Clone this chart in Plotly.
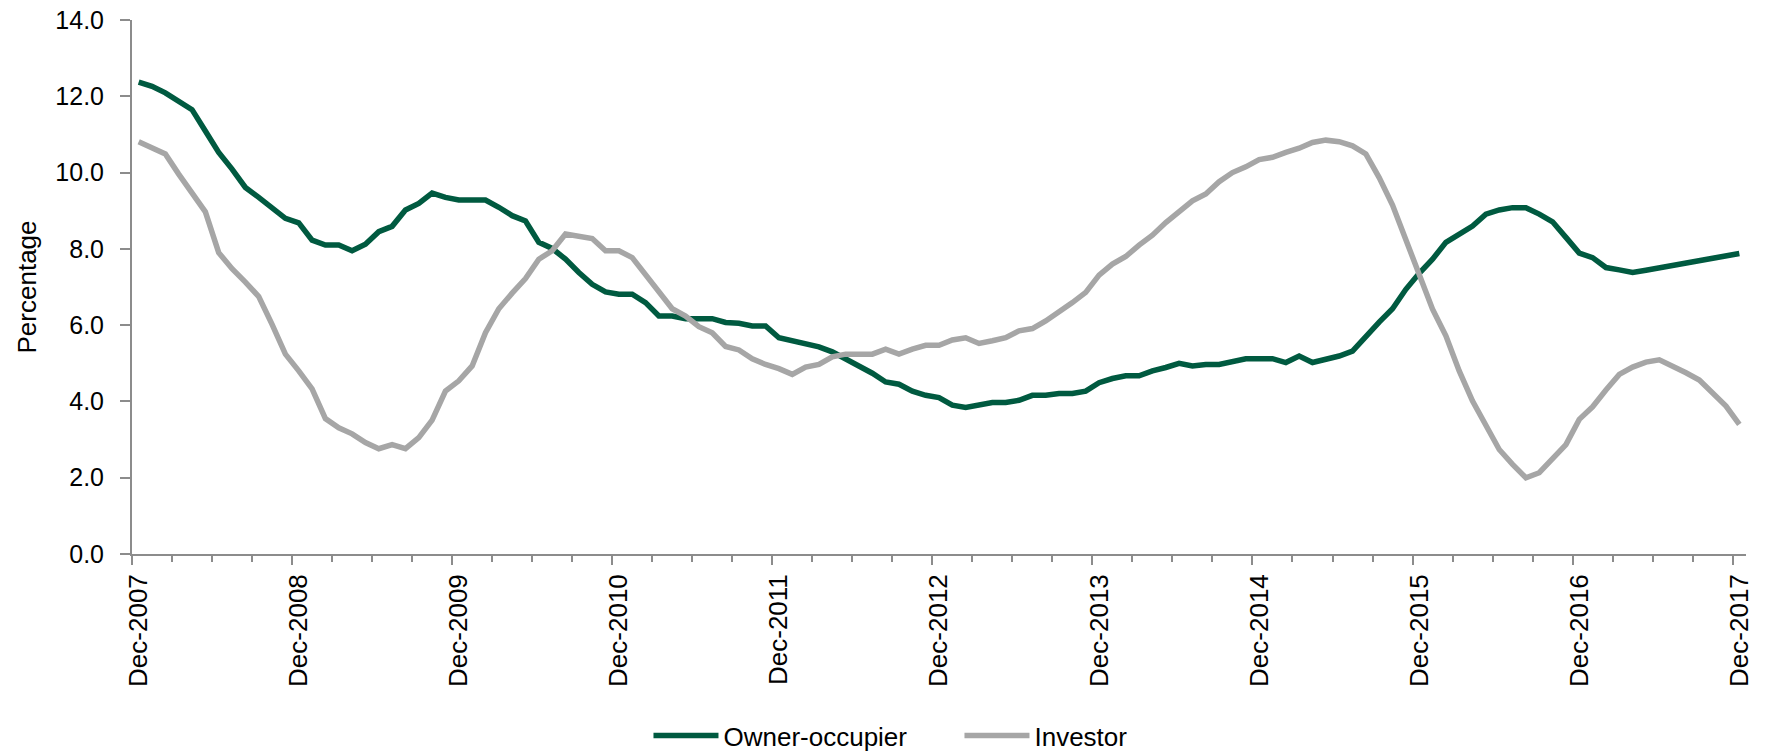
import plotly.graph_objects as go

# Monthly observations, Dec-2007 .. Dec-2017 (121 months)
tick_labels = ["Dec-2007", "Dec-2008", "Dec-2009", "Dec-2010", "Dec-2011", "Dec-2012",
               "Dec-2013", "Dec-2014", "Dec-2015", "Dec-2016", "Dec-2017"]

owner_occupier = [
    12.37, 12.26, 12.09, 11.86, 11.65, 11.09, 10.53, 10.09, 9.61, 9.35, 9.07, 8.80,
    8.68, 8.23, 8.10, 8.10, 7.95, 8.12, 8.45, 8.59, 9.02, 9.19, 9.46, 9.35,
    9.28, 9.28, 9.28, 9.09, 8.87, 8.73, 8.17, 8.01, 7.73, 7.38, 7.07, 6.87,
    6.81, 6.81, 6.59, 6.24, 6.24, 6.17, 6.17, 6.17, 6.07, 6.05, 5.98, 5.98,
    5.67, 5.59, 5.49, 5.43, 5.30, 5.12, 4.91, 4.74, 4.51, 4.45, 4.27, 4.16,
    4.10, 3.90, 3.84, 3.90, 3.97, 3.97, 4.03, 4.16, 4.16, 4.21, 4.21, 4.27,
    4.49, 4.60, 4.67, 4.67, 4.80, 4.89, 5.00, 4.93, 4.97, 4.97, 5.04, 5.12,
    5.12, 5.12, 5.02, 5.19, 5.02, 5.09, 5.19, 5.32, 5.72, 6.08, 6.43, 6.94,
    7.36, 7.73, 8.17, 8.37, 8.60, 8.91, 9.02, 9.08, 9.08, 8.91, 8.71, 8.30,
    7.89, 7.77, 7.51, 7.45, 7.38, 7.44, 7.50, 7.57, 7.62, 7.69, 7.75, 7.82,
    7.88,
]

investor = [
    10.81, 10.63, 10.49, 9.96, 9.46, 8.97, 7.90, 7.48, 7.13, 6.75, 6.02, 5.24,
    4.80, 4.33, 3.55, 3.31, 3.15, 2.92, 2.76, 2.87, 2.76, 3.05, 3.51, 4.27,
    4.54, 4.93, 5.80, 6.43, 6.84, 7.22, 7.73, 7.95, 8.39, 8.34, 8.27, 7.95,
    7.95, 7.77, 7.34, 6.90, 6.43, 6.24, 5.96, 5.80, 5.44, 5.35, 5.12, 4.97,
    4.86, 4.71, 4.90, 4.97, 5.17, 5.24, 5.24, 5.24, 5.37, 5.24, 5.37, 5.47,
    5.47, 5.61, 5.67, 5.52, 5.59, 5.67, 5.85, 5.91, 6.11, 6.33, 6.59, 6.86,
    7.31, 7.60, 7.80, 8.10, 8.36, 8.69, 8.97, 9.26, 9.44, 9.76, 10.00, 10.15,
    10.34, 10.40, 10.53, 10.64, 10.79, 10.85, 10.81, 10.70, 10.49, 9.87, 9.15, 8.26,
    7.29, 6.42, 5.72, 4.80, 4.01, 3.36, 2.74, 2.35, 2.00, 2.13, 2.48, 2.87,
    3.53, 3.86, 4.30, 4.71, 4.90, 5.03, 5.09, 4.93, 4.75, 4.56, 4.23, 3.88,
    3.40,
]

n = len(owner_occupier)
month_index = list(range(n))  # category positions (centre of each month)

FONT = "Liberation Sans, Arial, sans-serif"
AXIS_GREY = "#8c8c8c"
GREEN = "#005A40"
GREY = "#A6A6A6"

fig = go.Figure()
fig.add_trace(go.Scatter(x=month_index, y=owner_occupier, mode="lines", name="Owner-occupier",
                         line=dict(color=GREEN, width=5.5), xaxis="x", yaxis="y"))
fig.add_trace(go.Scatter(x=month_index, y=investor, mode="lines", name="Investor",
                         line=dict(color=GREY, width=5.5), xaxis="x2", yaxis="y"))

xr = [-0.5, n - 0.5]
major_bounds = [-0.5 + 12 * k for k in range(len(tick_labels))]
minor_bounds = [-0.5 + 3 * k for k in range(n // 3 + 1)]
label_pos = [12 * k for k in range(len(tick_labels))]

fig.update_layout(
    width=1772, height=754,
    margin=dict(l=132, r=26, t=20, b=200, autoexpand=False),
    paper_bgcolor="white", plot_bgcolor="white",
    font=dict(family=FONT, size=26, color="black"),
    xaxis=dict(
        type="linear", range=xr, showgrid=False, zeroline=False, automargin=False,
        showline=True, linecolor=AXIS_GREY, linewidth=2,
        tickmode="array", tickvals=major_bounds, showticklabels=False,
        ticks="outside", ticklen=9, tickwidth=2, tickcolor=AXIS_GREY,
        minor=dict(tickmode="array", tickvals=minor_bounds, ticks="outside",
                   ticklen=6, tickwidth=2, tickcolor=AXIS_GREY, showgrid=False),
    ),
    xaxis2=dict(
        type="linear", range=xr, overlaying="x", side="bottom", matches="x",
        showgrid=False, zeroline=False, showline=False, automargin=False,
        tickmode="array", tickvals=label_pos, ticktext=tick_labels,
        ticks="", tickangle=-90, ticklabelstandoff=14,
        tickfont=dict(family=FONT, size=26, color="black"),
    ),
    yaxis=dict(
        range=[0, 14], tickmode="linear", tick0=0, dtick=2, tickformat=".1f",
        showgrid=False, zeroline=False, automargin=False,
        showline=True, linecolor=AXIS_GREY, linewidth=2,
        ticks="outside", ticklen=10, tickwidth=2, tickcolor=AXIS_GREY,
        ticklabelstandoff=11,
        tickfont=dict(family=FONT, size=25, color="black"),
        title=dict(text="Percentage", font=dict(family=FONT, size=26, color="black"), standoff=11),
    ),
    showlegend=True,
    legend=dict(orientation="h", x=0.32, y=-0.34, xanchor="left", yanchor="middle",
                font=dict(family=FONT, size=26, color="black"), itemwidth=65,
                entrywidth=231, entrywidthmode="pixels",
                bgcolor="rgba(0,0,0,0)"),
)

fig.write_html("out.html",
               config={"displayModeBar": False},
               post_script="document.body.style.margin='0';document.body.style.padding='0';")
